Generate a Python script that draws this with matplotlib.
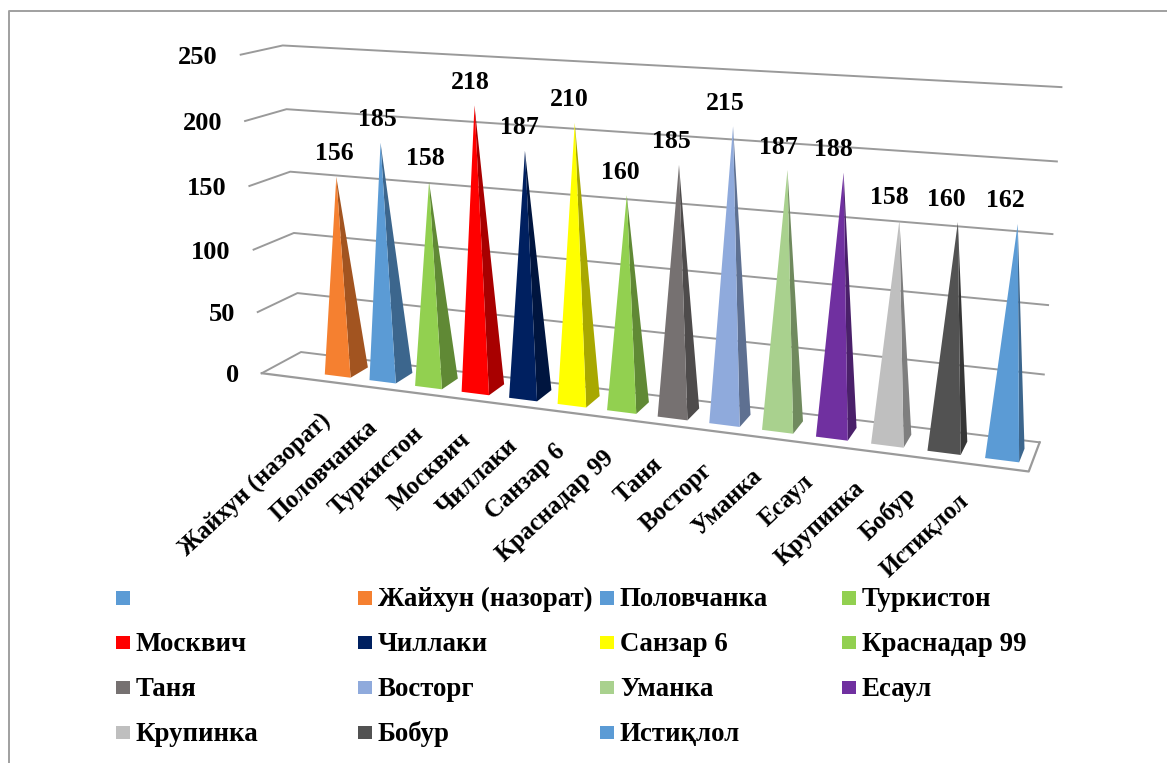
import numpy as np
import matplotlib
matplotlib.use("Agg")
import matplotlib.pyplot as plt
from matplotlib.patches import Rectangle

plt.rcParams['font.family'] = ['Liberation Serif', 'DejaVu Serif']
plt.rcParams['font.weight'] = 'bold'

# first category is empty in the source chart
names = ["", "Жайхун (назорат)", "Половчанка", "Туркистон", "Москвич", "Чиллаки", "Санзар 6",
         "Краснадар 99", "Таня", "Восторг", "Уманка", "Есаул", "Крупинка", "Бобур", "Истиқлол"]
values = [None, 156, 185, 158, 218, 187, 210, 160, 185, 215, 187, 188, 158, 160, 162]
colors = ["#5B9BD5", "#F58030", "#5B9BD5", "#92D050", "#FF0000", "#002060", "#FFFF00", "#92D050",
          "#767171", "#8FAADC", "#A9D18E", "#7030A0", "#BFBFBF", "#525252", "#5B9BD5"]
ticks = [0, 50, 100, 150, 200, 250]

# where the box corners sit in the picture: (category pos, value, depth) -> pixel
n = len(names)
frame = [(0, 0, 1, 301, 352), (0, 50, 1, 298, 293), (0, 100, 1, 293, 233), (0, 150, 1, 290, 172),
         (0, 200, 1, 287, 109), (0, 250, 1, 283, 45),
         (0, 0, 0, 262, 373), (0, 50, 0, 258, 312), (0, 100, 0, 253, 250), (0, 150, 0, 249, 186),
         (0, 200, 0, 245, 121), (0, 250, 0, 241, 55),
         (n, 0, 1, 1039, 442), (n, 50, 1, 1044, 375), (n, 100, 1, 1048, 306), (n, 150, 1, 1053, 234),
         (n, 200, 1, 1058, 161), (n, 250, 1, 1060, 87), (n, 0, 0, 1029, 471)]

A = []
b = []
for c, v, d, px, py in frame:
    X = [c / n, v / 250., d, 1.]
    A.append(X + [0, 0, 0, 0] + [-px * q for q in X[:3]])
    b.append(px)
    A.append([0, 0, 0, 0] + X + [-py * q for q in X[:3]])
    b.append(py)
P = np.linalg.lstsq(np.array(A, float), np.array(b, float), rcond=None)[0]
P = np.append(P, 1.).reshape(3, 4)


def project(c, v, d):
    h = P @ np.array([c / n, v / 250., d, 1.])
    return h[0] / h[2], h[1] / h[2]


fig = plt.figure(figsize=(11.67, 7.63), dpi=100)
ax = fig.add_axes([0, 0, 1, 1])
ax.set_xlim(0, 1167)
ax.set_ylim(763, 0)
ax.axis("off")

# outer border
ax.plot([8.5, 8.5, 1167], [763, 11, 11], color="#a0a0a0", lw=1.4)

grid = "#9a9a9a"
for t in ticks:
    a = project(0, t, 0)
    m = project(0, t, 1)
    e = project(n, t, 1)
    ax.plot([a[0], m[0], e[0]], [a[1], m[1], e[1]], color=grid, lw=1.4, zorder=1)
    ax.text(a[0] - 23, a[1] + 2.5, str(t), ha="right", va="center", fontsize=19, color="black")

# floor outline
corners = [project(0, 0, 0), project(n, 0, 0), project(n, 0, 1)]
ax.plot([q[0] for q in corners], [q[1] for q in corners], color=grid, lw=1.6, zorder=1)

w = 0.29
d0, d1 = 0.25, 0.72
for i in range(1, n):
    c = i + 0.5
    fl = project(c - w, 0, d0)
    fr = project(c + w, 0, d0)
    br = project(c + w, 0, d1)
    top = project(c, values[i], (d0 + d1) / 2)
    dark = tuple(0.66 * q for q in matplotlib.colors.to_rgb(colors[i]))
    ax.fill([fr[0], br[0], top[0]], [fr[1], br[1], top[1]], color=dark, lw=0, zorder=3)
    ax.fill([fl[0], fr[0], top[0]], [fl[1], fr[1], top[1]], color=colors[i], lw=0, zorder=4)
    j = i - 1
    ax.text(top[0] - 2 - 10 * j / 13., top[1] - 23, str(values[i]), ha="center", va="center",
            fontsize=18.5, color="black", zorder=5)
    ax.text(328 + 45.4 * j + 0.275 * j ** 2, 418 + 6.1 * j, names[i], rotation=43, rotation_mode="anchor",
            ha="right", va="center", fontsize=17.8, color="black")

# legend, four columns
for i, name in enumerate(names):
    row, col = divmod(i, 4)
    x = 116 + col * 242
    y = 597.5 + row * 44.9
    ax.add_patch(Rectangle((x, y - 6.5), 13.5, 13.5, facecolor=colors[i], edgecolor="none"))
    ax.text(x + 20, y + 2, name, ha="left", va="center", fontsize=19.4, color="black")

fig.savefig("out.png", dpi=100)
